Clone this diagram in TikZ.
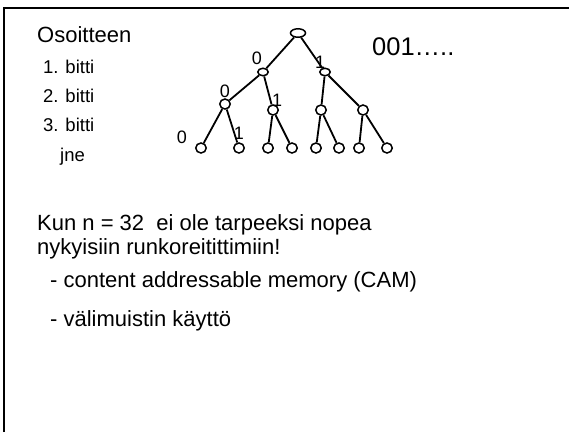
\documentclass[tikz,border=0pt]{standalone}
\usepackage{fontspec}
\setmainfont{Liberation Sans}
\usetikzlibrary{positioning, shapes.geometric}

\begin{document}
\begin{tikzpicture}[
    x=1pt, y=-1pt,
    bitnode/.style={ellipse, draw, line width=1.5pt, inner sep=0pt,
                    minimum width=10.5pt, minimum height=10pt},
    branch/.style={line width=1.8pt},
    bitlabel/.style={font=\fontsize{18}{20}\selectfont, inner sep=0pt},
    sidelabel/.style={font=\fontsize{18.5}{20}\selectfont, anchor=base west,
                      inner sep=0pt},
    bodytext/.style={font=\fontsize{22}{24}\selectfont, anchor=base west,
                     inner sep=0pt}
  ]
    \useasboundingbox (0,0) rectangle (569,432);
    \draw[line width=2pt] (4,432) -- (4,8) -- (569,8);

    \node[bodytext] (osoite) at (37,42) {Osoitteen};
    \node[sidelabel] (bit1) at (43,73) {1. bitti};
    \node[sidelabel] (bit2) at (43,102) {2. bitti};
    \node[sidelabel] (bit3) at (43,131) {3. bitti};
    \node[sidelabel] (jne) at (60,161) {jne};

    \node[bitnode, minimum width=15pt, minimum height=8.5pt] (root) at (298,33) {};
    \node[bitnode, minimum width=10.5pt, minimum height=7.5pt] (n0) at (263,72) {};
    \node[bitnode, minimum width=10.5pt, minimum height=7.5pt] (n1) at (325,72) {};
    \node[bitnode] (n00) at (225,104) {};
    \node[bitnode] (n01) at (273,110) {};
    \node[bitnode] (n10) at (321,110) {};
    \node[bitnode] (n11) at (363,110) {};
    \node[bitnode] (l000) at (201,148) {};
    \node[bitnode] (l001) at (239,148) {};
    \node[bitnode] (l010) at (268,148) {};
    \node[bitnode] (l011) at (292,148) {};
    \node[bitnode] (l100) at (316,148) {};
    \node[bitnode] (l101) at (339,148) {};
    \node[bitnode] (l110) at (359,148) {};
    \node[bitnode] (l111) at (387,148) {};

    \draw[branch] (root) -- (n0);
    \draw[branch] (root) -- (n1);
    \draw[branch] (n0) -- (n00);
    \draw[branch] (n0) -- (n01);
    \draw[branch] (n1) -- (n10);
    \draw[branch] (n1) -- (n11);
    \draw[branch] (n00) -- (l000);
    \draw[branch] (n00) -- (l001);
    \draw[branch] (n01) -- (l010);
    \draw[branch] (n01) -- (l011);
    \draw[branch] (n10) -- (l100);
    \draw[branch] (n10) -- (l101);
    \draw[branch] (n11) -- (l110);
    \draw[branch] (n11) -- (l111);

    \node[bitlabel] (b0a) at (257,58) {0};
    \node[bitlabel] (b1a) at (320,62) {1};
    \node[bitlabel] (b0b) at (225,91) {0};
    \node[bitlabel] (b1b) at (277,100) {1};
    \node[bitlabel] (b0c) at (182,137) {0};
    \node[bitlabel] (b1c) at (239,133) {1};

    \node[font=\fontsize{25.5}{28}\selectfont, anchor=west, inner sep=0pt]
      (prefix) at (372,47) {001…..};

    \node[bodytext] (kun) at (37,230) {Kun n = 32~ ei ole tarpeeksi nopea};
    \node[bodytext] (nyky) at (37,254) {nykyisiin runkoreitittimiin!};
    \node[bodytext] (cam) at (50,287) {- content addressable memory (CAM)};
    \node[bodytext] (cache) at (50,326) {- välimuistin käyttö};
  \end{tikzpicture}
\end{document}
